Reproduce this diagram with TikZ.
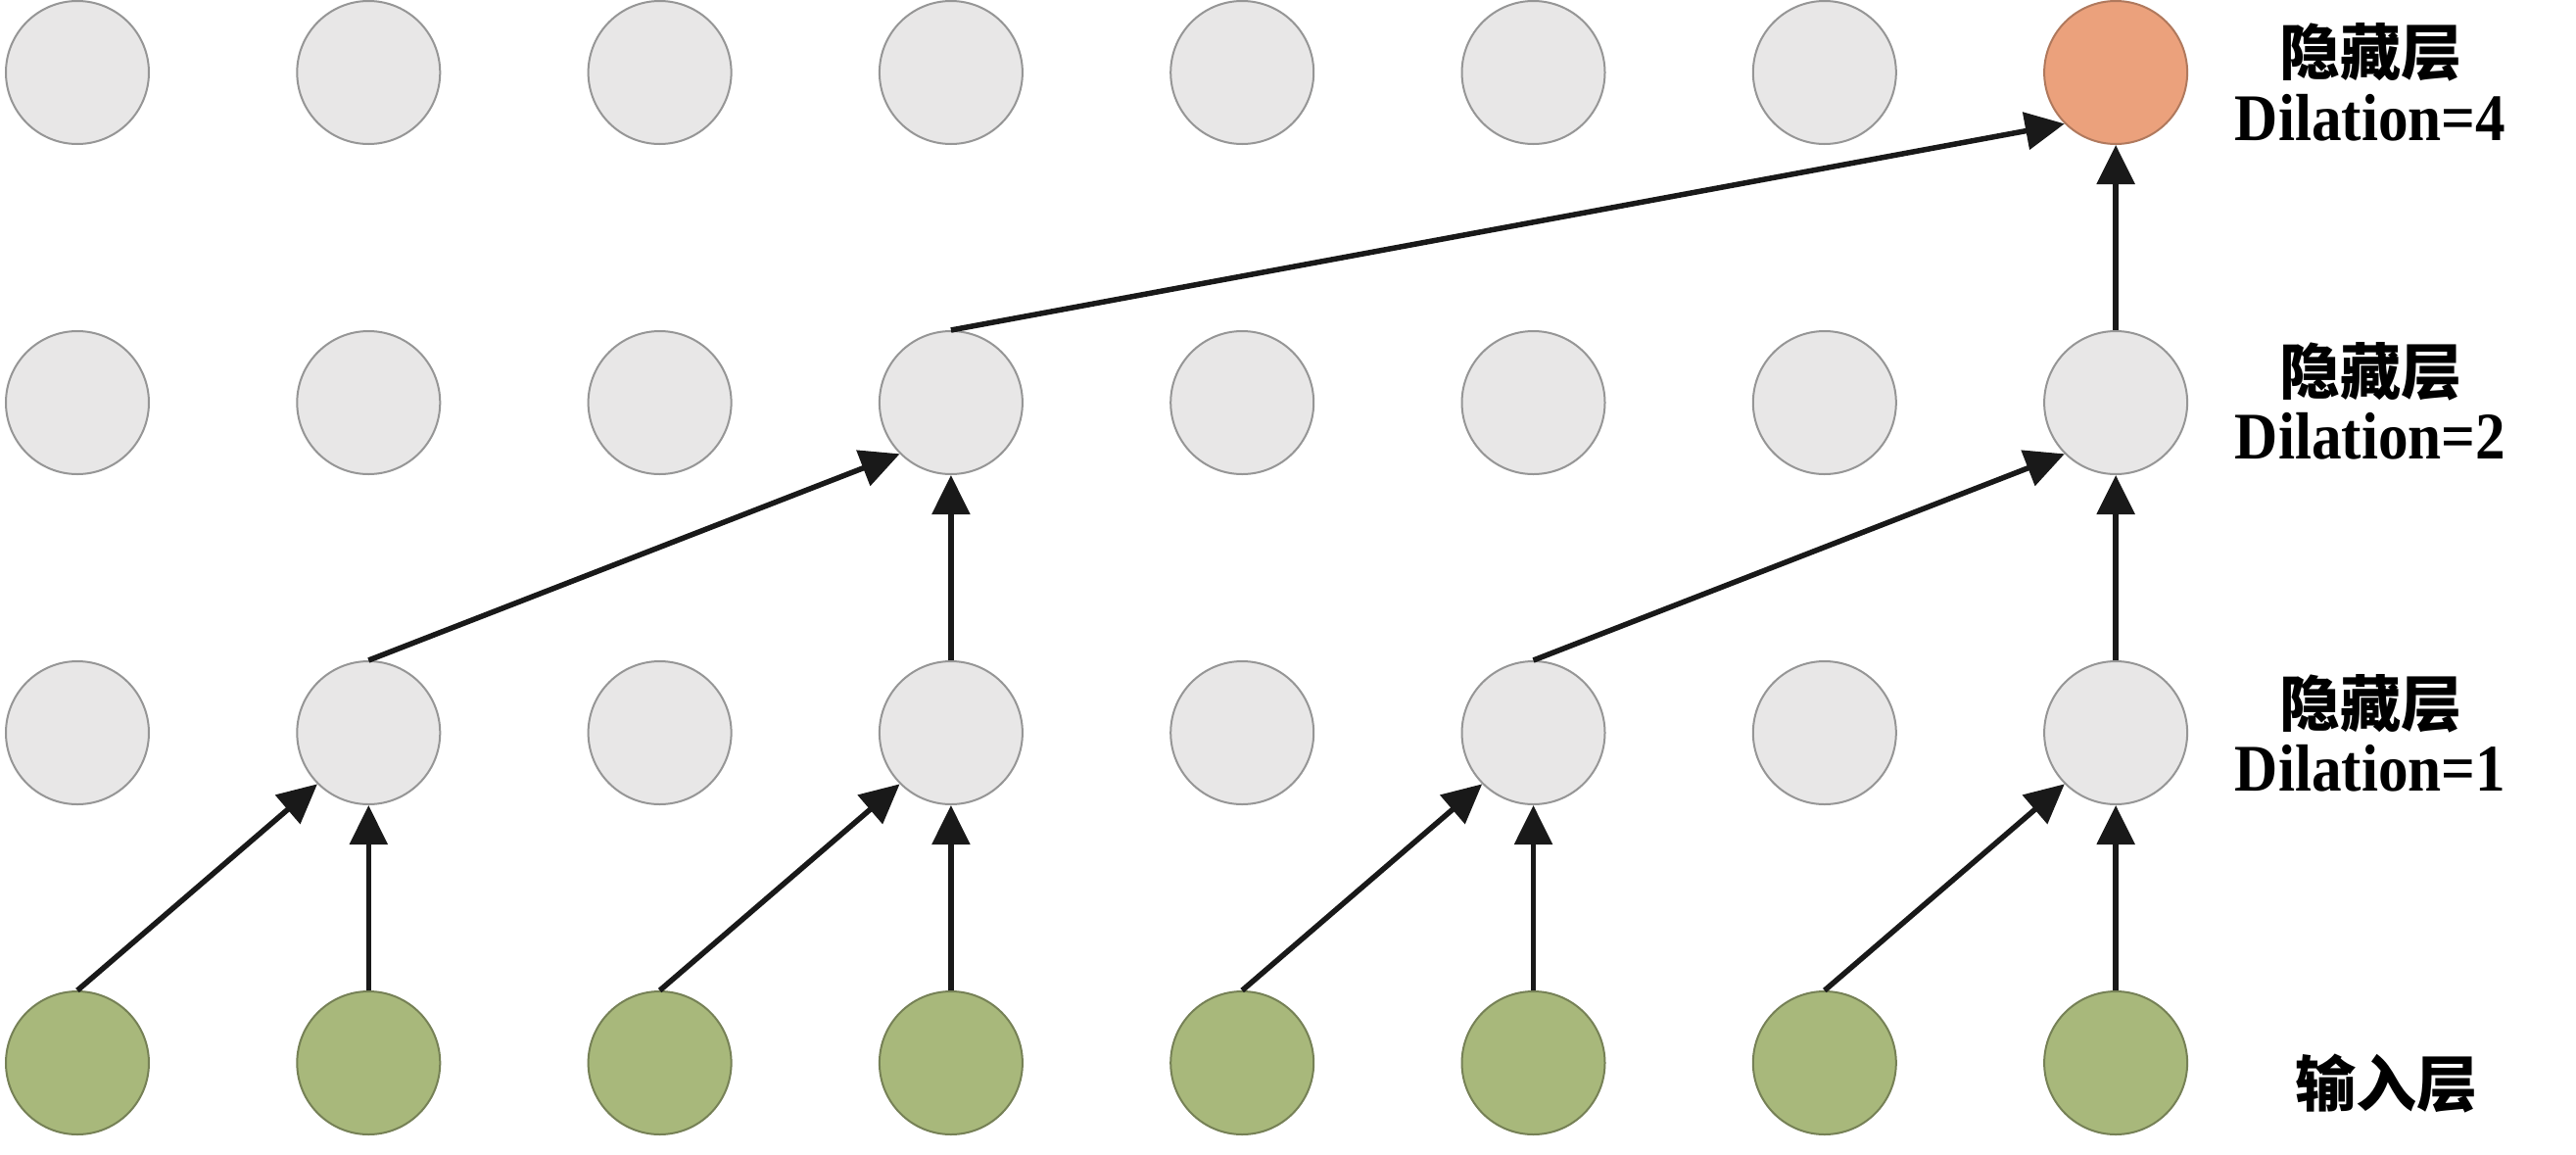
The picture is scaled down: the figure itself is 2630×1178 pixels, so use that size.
\documentclass[tikz,border=0pt]{standalone}
\usepackage{fontspec}
\setmainfont{Liberation Serif}[FakeStretch=0.9]
\newfontfamily\cjk{Noto Sans CJK SC}
\usetikzlibrary{arrows.meta}
\definecolor{cgray}{RGB}{232,231,231}
\definecolor{cedge}{RGB}{150,150,150}
\definecolor{cgreen}{RGB}{168,184,123}
\definecolor{corange}{RGB}{235,161,124}
\begin{document}
\begin{tikzpicture}[x=1pt,y=-1pt,
  unit/.style={circle,minimum size=146pt,inner sep=0pt,line width=2pt,draw=cedge},
  hid/.style={unit,fill=cgray},
  inp/.style={unit,fill=cgreen,draw=cgreen!70!black},
  outn/.style={unit,fill=corange,draw=corange!75!black},
  arr/.style={line width=5.5pt,draw=black!90,-{Triangle[length=40pt,width=38pt]}},
  cjkl/.style={inner sep=0pt,font=\cjk\bfseries\fontsize{62}{70}\selectfont},
  latl/.style={inner sep=0pt,anchor=base,font=\bfseries\fontsize{68}{76}\selectfont}]
\useasboundingbox (0,0) rectangle (2630,1178);
\fill[white] (0,0) rectangle (2630,1178);
\foreach \c in {0,...,7}{
  \node[inp] (in-\c) at ({79+297.3*\c},1085) {};
  \node[hid] (h1-\c) at ({79+297.3*\c},748) {};
  \node[hid] (h2-\c) at ({79+297.3*\c},411) {};
}
\foreach \c in {0,...,6}{
  \node[hid] (h3-\c) at ({79+297.3*\c},74) {};
}
\node[outn] (h3-7) at ({79+297.3*7},74) {};
% layer 1
\draw[arr] (in-0.north) -- (h1-1.south west);
\draw[arr] (in-1.north) -- (h1-1.south);
\draw[arr] (in-2.north) -- (h1-3.south west);
\draw[arr] (in-3.north) -- (h1-3.south);
\draw[arr] (in-4.north) -- (h1-5.south west);
\draw[arr] (in-5.north) -- (h1-5.south);
\draw[arr] (in-6.north) -- (h1-7.south west);
\draw[arr] (in-7.north) -- (h1-7.south);
% layer 2
\draw[arr] (h1-1.north) -- (h2-3.south west);
\draw[arr] (h1-3.north) -- (h2-3.south);
\draw[arr] (h1-5.north) -- (h2-7.south west);
\draw[arr] (h1-7.north) -- (h2-7.south);
% layer 3
\draw[arr] (h2-3.north) -- (h3-7.south west);
\draw[arr] (h2-7.north) -- (h3-7.south);
% labels
\node[cjkl] (l3a) at (2420,53) {隐藏层};
\node[latl] (l3b) at (2420,143) {Dilation=4};
\node[cjkl] (l2a) at (2420,379) {隐藏层};
\node[latl] (l2b) at (2420,468) {Dilation=2};
\node[cjkl] (l1a) at (2420,718) {隐藏层};
\node[latl] (l1b) at (2420,807) {Dilation=1};
\node[cjkl] (l0a) at (2436,1106) {输入层};
\end{tikzpicture}
\end{document}
